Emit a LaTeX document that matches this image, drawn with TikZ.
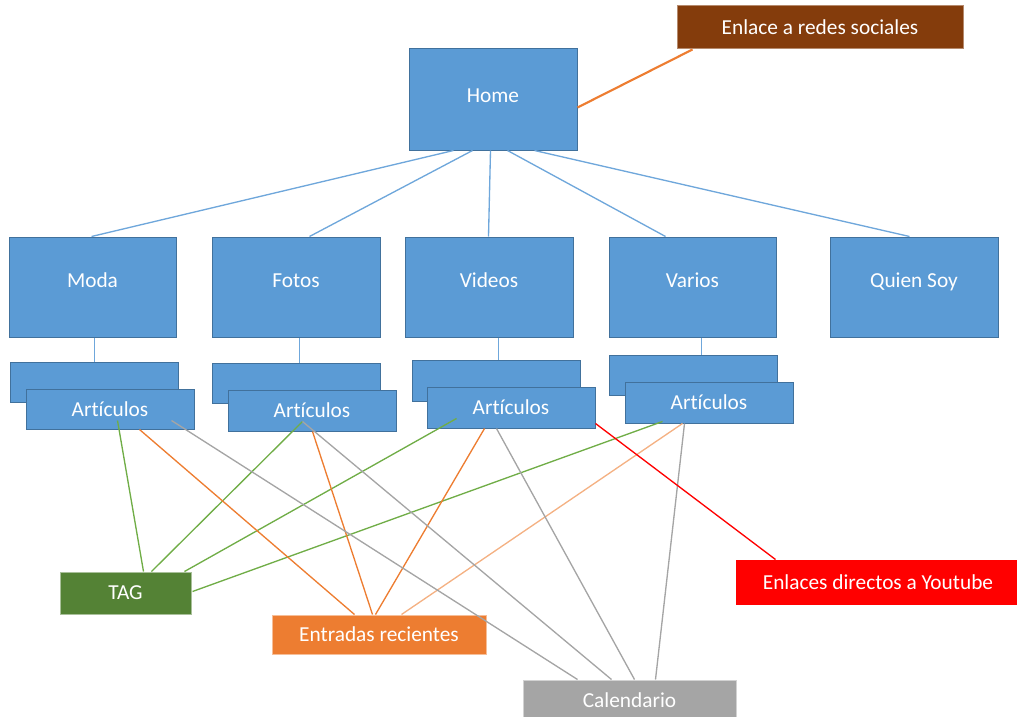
\documentclass[tikz,border=0pt]{standalone}
\usepackage{fontspec}
\setmainfont[Ligatures=NoCommon]{Carlito}
\usetikzlibrary{calc}
\definecolor{bfill}{HTML}{5B9BD5}
\definecolor{bdraw}{HTML}{41719C}
\definecolor{bline}{HTML}{6FA7DB}
\definecolor{brown}{HTML}{843C0C}
\definecolor{tagg}{HTML}{548235}
\definecolor{gline}{HTML}{70AD47}
\definecolor{oran}{HTML}{ED7D31}
\definecolor{oline}{HTML}{ED7D31}
\definecolor{olight}{HTML}{F4B183}
\definecolor{grey}{HTML}{A5A5A5}
\definecolor{gryline}{HTML}{A5A5A5}
\definecolor{redc}{HTML}{FF0000}
\begin{document}
\begin{tikzpicture}[x=0.75pt,y=-0.75pt,
  base/.style={rectangle, inner sep=0pt, text=white, line width=0.75pt,
    font=\fontsize{16}{19}\selectfont},
  bbox/.style={base, draw=bdraw, fill=bfill},
  cat/.style={bbox, text height=6pt, text depth=6pt},
  sz/.style 2 args={minimum width=#1*0.75pt, minimum height=#2*0.75pt},
  blue line/.style={draw=bline, line width=1pt},
  green line/.style={draw=gline, line width=1pt},
  orange line/.style={draw=oline, line width=1pt},
  grey line/.style={draw=gryline, line width=1pt},
  red line/.style={draw=redc, line width=1pt}]
\useasboundingbox (0,0) rectangle (1017,717);

% top
\node[bbox, sz={168}{101}, text height=8pt, text depth=4pt] (home) at (493,99.5) {Home};
\node[base, sz={286}{43}, fill=brown, draw=brown!60!white] (redes) at (820,27.5) {Enlace a redes sociales};

% categories
\node[cat, sz={167}{100}] (moda) at (92.5,287) {Moda};
\node[cat, sz={168}{100}] (fotos) at (296,287) {Fotos};
\node[cat, sz={168}{100}] (videos) at (489,287) {Videos};
\node[cat, sz={167}{100}] (varios) at (692.5,287) {Varios};
\node[cat, sz={168}{100}] (quien) at (914,287) {Quien Soy};

% back boxes
\node[bbox, sz={168}{40}] (moB) at (94,382) {};
\node[bbox, sz={168}{40}] (foB) at (296,383) {};
\node[bbox, sz={168}{41}] (viB) at (496,380.5) {};
\node[bbox, sz={168}{40}] (vaB) at (693,375) {};

% front boxes
\node[bbox, sz={168}{40}] (moA) at (110,409) {Artículos};
\node[bbox, sz={168}{41}] (foA) at (312,410.5) {Artículos};
\node[bbox, sz={168}{41}] (viA) at (511,407.5) {Artículos};
\node[bbox, sz={168}{41}] (vaA) at (709,402.5) {Artículos};

% bottom
\node[base, sz={131}{42}, fill=tagg, draw=tagg!50!white] (tag) at (125.5,593) {TAG};
\node[base, sz={214}{39}, fill=oran, draw=oran!50!white] (entr) at (379,634.5) {Entradas recientes};
\node[base, sz={213}{40}, fill=grey, draw=grey!50!white] (cal) at (629.5,700) {Calendario};
\node[base, sz={284}{44}, fill=redc, draw=redc] (yt) at (878,582) {Enlaces directos a Youtube};

% home connectors
\draw[orange line, line width=1.6pt] ($(home.north east)+(0,59)$) -- ($(redes.south west)+(16,0)$);
\draw[blue line] ($(home.south west)+(45,0)$) -- ($(moda.north west)+(83,0)$);
\draw[blue line] ($(home.south west)+(64,0)$) -- ($(fotos.north west)+(98,0)$);
\draw[blue line] ($(home.south west)+(82,0)$) -- ($(videos.north west)+(84,0)$);
\draw[blue line] ($(home.south west)+(99,0)$) -- ($(varios.north west)+(57,0)$);
\draw[blue line] ($(home.south west)+(126,0)$) -- ($(quien.north west)+(80,0)$);

% category to articles
\draw[blue line] ($(moda.south west)+(86,0)$) -- ($(moB.north west)+(85,0)$);
\draw[blue line] ($(fotos.south west)+(88,0)$) -- ($(foB.north west)+(88,0)$);
\draw[blue line] ($(videos.south west)+(94,0)$) -- ($(viB.north west)+(87,0)$);
\draw[blue line] ($(varios.south west)+(93,0)$) -- ($(vaB.north west)+(93,0)$);

% TAG
\draw[green line] ($(moA.south west)+(92,-9)$) -- ($(tag.north west)+(84,0)$);
\draw[green line] ($(foA.south west)+(75,-10)$) -- ($(tag.north west)+(92,0)$);
\draw[green line] ($(viA.south west)+(30,-10)$) -- ($(tag.north west)+(125,0)$);
\draw[green line] ($(vaA.south west)+(38,-2)$) -- ($(tag.north west)+(133,20)$);

% Entradas recientes
\draw[orange line] ($(moA.south west)+(114,0)$) -- ($(entr.north west)+(83,0)$);
\draw[orange line] ($(foA.south west)+(85,0)$) -- ($(entr.north west)+(101,0)$);
\draw[orange line] ($(viA.south west)+(58,0)$) -- ($(entr.north west)+(104,0)$);
\draw[orange line, draw=olight] ($(vaA.south west)+(58,0)$) -- ($(entr.north west)+(130,0)$);

% Calendario
\draw[grey line] ($(moA.south west)+(146,-9)$) -- ($(cal.north west)+(55,0)$);
\draw[grey line] ($(foA.south west)+(75,-10)$) -- ($(cal.north west)+(89,0)$);
\draw[grey line] ($(viA.south west)+(70,0)$) -- ($(cal.north west)+(112,0)$);
\draw[grey line] ($(vaA.south west)+(60,0)$) -- ($(cal.north west)+(133,0)$);

% Youtube
\draw[red line] ($(viA.south east)+(0,-5)$) -- ($(yt.north west)+(40,0)$);
\end{tikzpicture}
\end{document}
